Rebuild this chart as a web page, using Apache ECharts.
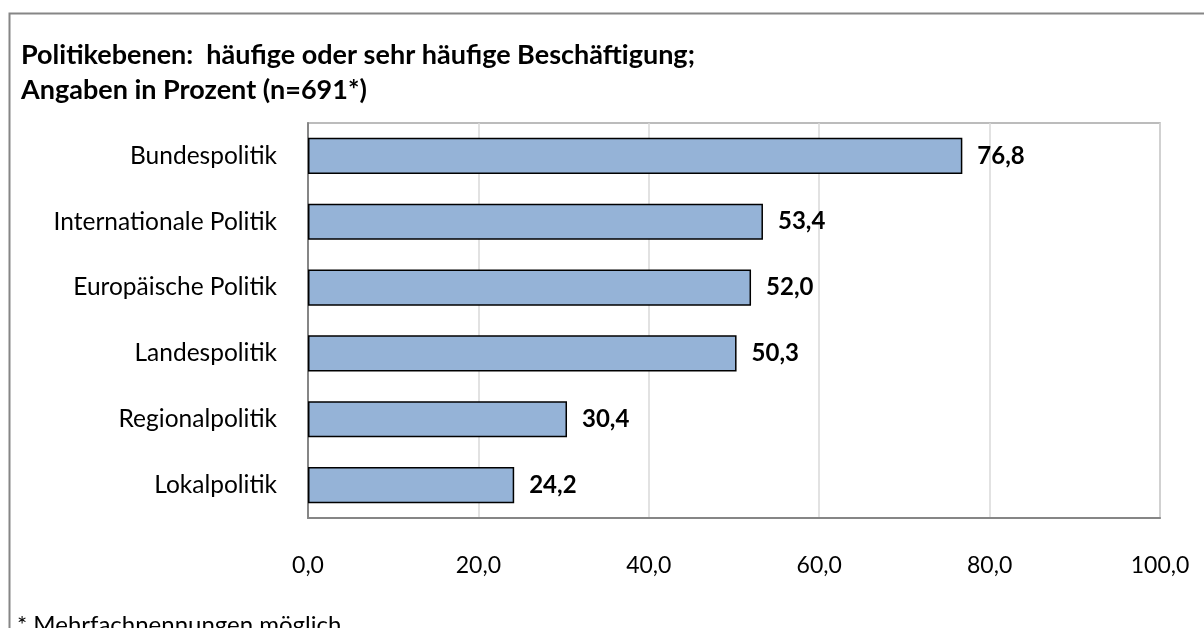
<!DOCTYPE html>
<html>
<head>
<meta charset="utf-8">
<script src="https://cdn.jsdelivr.net/npm/echarts@6/dist/echarts.min.js"></script>
<style>
html,body{margin:0;padding:0;background:#fff;}
#c{width:1204px;height:628px;}
</style>
</head>
<body>
<div id="c"></div>
<script>
const categories = ["Bundespolitik","Internationale Politik","Europäische Politik","Landespolitik","Regionalpolitik","Lokalpolitik"];
const values = [76.8, 53.4, 52.0, 50.3, 30.4, 24.2];
const titleLines = ["Politikebenen:  häufige oder sehr häufige Beschäftigung;", "Angaben in Prozent (n=691*)"];
const footnote = "* Mehrfachnennungen möglich";

const FONT = "Lato, 'Open Sans', sans-serif";
const chart = echarts.init(document.getElementById('c'), null, {renderer:'canvas'});
chart.setOption({
  animation:false,
  backgroundColor:'#fff',
  title:{
    text: titleLines.join('\n'),
    left: 16, top: 33,
    textStyle:{fontFamily:FONT, fontWeight:'bold', fontSize:27, color:'#000', lineHeight:35}
  },
  graphic:[
    {type:'rect', shape:{x:9.5, y:13.5, width:1300, height:700}, style:{fill:null, stroke:'#868686', lineWidth:2}, silent:true, z:-1},
    {type:'text', x:17, y:625, style:{text:footnote, font:"24px "+FONT, fill:'#000', verticalAlign:'middle'}}
  ],
  grid:{left:308, top:123, width:852, height:395, show:true, borderColor:'#a6a6a6', borderWidth:1.5, backgroundColor:'transparent'},
  xAxis:{
    type:'value', min:0, max:100, interval:20,
    axisLine:{show:true, lineStyle:{color:'#868686', width:2}},
    axisTick:{show:false},
    splitLine:{show:true, lineStyle:{color:'#d9d9d9', width:1.5}},
    axisLabel:{margin:36, fontFamily:FONT, fontSize:23, color:'#000', formatter:v=>v.toFixed(1).replace('.',',')}
  },
  yAxis:{
    type:'category', data:categories, inverse:true,
    axisLine:{show:true, lineStyle:{color:'#868686', width:2}},
    axisTick:{show:false},
    axisLabel:{margin:31, fontFamily:FONT, fontSize:24.5, color:'#000'}
  },
  series:[{
    type:'bar', data:values, barWidth:'55%',
    itemStyle:{color:'#95b3d7', borderColor:'#000', borderWidth:1.5},
    label:{show:true, position:'right', distance:15, fontFamily:FONT, fontWeight:'bold', fontSize:24, color:'#000',
      formatter:p=>p.value.toFixed(1).replace('.',',')}
  }]
});
</script>
</body>
</html>
